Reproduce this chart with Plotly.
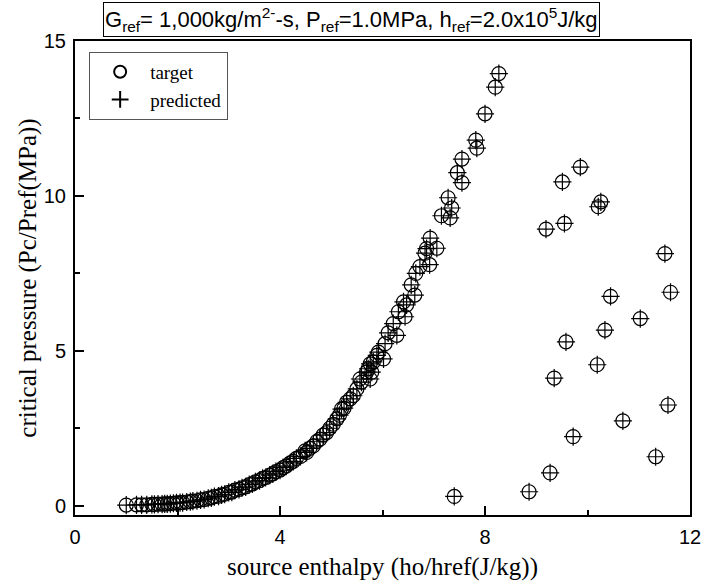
import plotly.graph_objects as go

# ---- data ----
curve_x = [1.00, 1.20, 1.30, 1.40, 1.50, 1.55, 1.62, 1.70, 1.75, 1.80, 1.86, 1.92, 1.98,
           2.05, 2.10, 2.18, 2.25, 2.30, 2.38, 2.45, 2.52, 2.60, 2.66, 2.72, 2.80, 2.86,
           2.92, 3.00, 3.06, 3.12, 3.20, 3.26, 3.33, 3.40, 3.46, 3.52, 3.60, 3.66, 3.72,
           3.80, 3.86, 3.92, 4.00, 4.06, 4.12, 4.20, 4.26, 4.32, 4.40, 4.49, 4.52, 4.58,
           4.65, 4.72, 4.78, 4.84, 4.91, 4.97, 5.04, 5.11, 5.16, 5.20, 5.25, 5.30, 5.37,
           5.43, 5.50, 5.56, 5.59, 5.69, 5.72, 5.76, 5.79, 5.76, 5.82, 5.89, 5.92, 6.02,
           6.05, 6.11, 6.21, 6.28, 6.31, 6.41, 6.44, 6.47, 6.56, 6.63, 6.65, 6.73, 6.83,
           6.86, 6.92, 6.93, 7.06, 7.15, 7.28, 7.32, 7.35, 7.46, 7.55, 7.55, 7.82, 7.84,
           8.00, 8.20, 8.27]
curve_y = [0.02, 0.03, 0.03, 0.03, 0.04, 0.04, 0.05, 0.05, 0.06, 0.06, 0.07, 0.08, 0.09,
           0.10, 0.10, 0.12, 0.13, 0.15, 0.16, 0.19, 0.20, 0.24, 0.25, 0.29, 0.31, 0.35,
           0.37, 0.43, 0.44, 0.50, 0.53, 0.58, 0.61, 0.68, 0.70, 0.77, 0.81, 0.88, 0.91,
           0.99, 1.03, 1.10, 1.15, 1.23, 1.28, 1.38, 1.43, 1.53, 1.59, 1.77, 1.72, 1.85,
           1.93, 2.08, 2.15, 2.28, 2.36, 2.50, 2.63, 2.80, 2.92, 3.12, 3.15, 3.34, 3.45,
           3.55, 3.77, 4.09, 3.99, 4.31, 4.42, 4.58, 4.31, 4.09, 4.64, 4.85, 4.96, 4.74,
           5.23, 5.58, 5.88, 5.50, 6.26, 6.58, 6.10, 6.48, 7.13, 6.80, 7.50, 7.72, 8.15,
           8.30, 7.78, 8.64, 8.31, 9.36, 9.94, 9.29, 9.61, 10.75, 10.43, 11.19, 11.80, 11.54,
           12.65, 13.51, 13.95]

scatter_x = [7.40, 8.86, 9.27, 11.33, 9.72, 10.69, 11.57, 9.35, 10.19, 9.58, 10.34,
             11.03, 10.45, 11.62, 11.51, 9.19, 9.55, 10.21, 10.26, 9.51, 9.86]
scatter_y = [0.30, 0.45, 1.06, 1.58, 2.23, 2.74, 3.25, 4.12, 4.55, 5.29, 5.67,
             6.04, 6.76, 6.89, 8.14, 8.93, 9.11, 9.65, 9.81, 10.45, 10.93]

target_x = curve_x + scatter_x
target_y = curve_y + scatter_y
predicted_x = curve_x + scatter_x
predicted_y = curve_y + scatter_y

x_tick_vals = [0, 4, 8, 12]
y_tick_vals = [0, 5, 10, 15]

fig = go.Figure()
fig.add_trace(go.Scatter(
    x=target_x, y=target_y, mode="markers", name="target",
    marker=dict(symbol="circle-open", size=14, color="black", line=dict(width=1.2, color="black")),
))
fig.add_trace(go.Scatter(
    x=predicted_x, y=predicted_y, mode="markers", name="predicted",
    marker=dict(symbol="cross-thin-open", size=13, color="black", line=dict(width=1.2, color="black")),
))

axis_common = dict(
    showgrid=False, zeroline=False, showline=True, linecolor="black", linewidth=2,
    mirror=True, ticks="inside", ticklen=9, tickwidth=1.5, tickcolor="black",
    automargin=False,
    tickfont=dict(family="Liberation Sans, Arial", size=20, color="black"),
)

fig.update_xaxes(
    range=[0, 12], tickvals=x_tick_vals, ticktext=[str(v) for v in x_tick_vals],
    minor=dict(ticks="inside", dtick=2, tick0=0, ticklen=5, tickwidth=1.5, tickcolor="black"),
    ticklabelstandoff=3,
    title=dict(text="source enthalpy (ho/href(J/kg))",
               font=dict(family="Liberation Serif, Times New Roman", size=25, color="black"),
               standoff=10),
    **axis_common,
)
fig.update_yaxes(
    range=[-0.3, 15], tickvals=y_tick_vals, ticktext=[str(v) for v in y_tick_vals],
    minor=dict(ticks="inside", dtick=2.5, tick0=0, ticklen=5, tickwidth=1.5, tickcolor="black"),
    ticklabelstandoff=3,
    title=dict(text="critical pressure (Pc/Pref(MPa))",
               font=dict(family="Liberation Serif, Times New Roman", size=25, color="black"),
               standoff=0),
    **axis_common,
)

fig.add_annotation(
    xref="paper", yref="paper", x=0.854, y=1.0446, xanchor="right", yanchor="middle",
    text="G<sub>ref</sub>= 1,000kg/m<sup>2-</sup>-s, P<sub>ref</sub>=1.0MPa, h<sub>ref</sub>=2.0x10<sup>5</sup>J/kg",
    showarrow=False, font=dict(family="Liberation Sans, Arial", size=22, color="black"),
    bordercolor="black", borderwidth=1, borderpad=1, bgcolor="white",
)

fig.update_layout(
    width=705, height=588, paper_bgcolor="white", plot_bgcolor="white",
    margin=dict(l=75, r=15, t=41, b=73),
    showlegend=True,
    legend=dict(x=0.023, y=0.977, xanchor="left", yanchor="top",
                bordercolor="#555555", borderwidth=1, bgcolor="white",
                font=dict(family="Liberation Serif, Times New Roman", size=19, color="black"),
                itemsizing="constant", itemwidth=50, tracegroupgap=0),
)

fig.write_html(
    "out.html",
    config={"displayModeBar": False},
    post_script="document.body.style.margin='0';document.body.style.overflow='hidden';",
)
